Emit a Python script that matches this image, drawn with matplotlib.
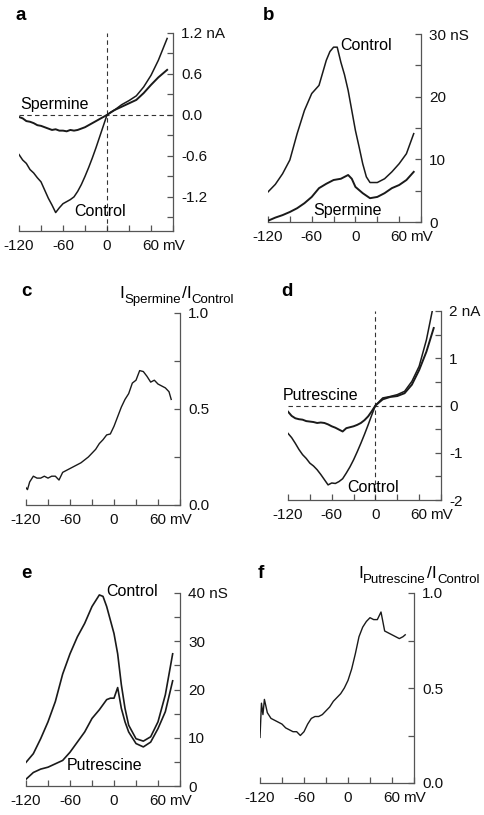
import matplotlib
matplotlib.use("Agg")
import matplotlib.pyplot as plt
import numpy as np

plt.rcParams['font.family'] = ['Liberation Sans', 'DejaVu Sans']

# ---------------- data ----------------
# Panel a: I-V, spermine (nA)
a_v_ctrl = [-120, -115, -110, -105, -100, -95, -90, -85, -80, -75, -70, -65, -60, -55, -50, -45, -40, -35, -30, -25, -20, -15, -10, -5, 0, 5, 10, 20, 30, 40, 50, 60, 70, 82]
a_i_ctrl = [-0.58, -0.66, -0.71, -0.80, -0.85, -0.92, -0.98, -1.10, -1.22, -1.32, -1.43, -1.36, -1.30, -1.27, -1.24, -1.20, -1.12, -1.02, -0.90, -0.77, -0.63, -0.48, -0.32, -0.16, 0.00, 0.04, 0.07, 0.15, 0.21, 0.28, 0.41, 0.58, 0.80, 1.12]
a_v_sperm = [-120, -115, -110, -105, -100, -95, -90, -85, -80, -75, -70, -65, -60, -55, -50, -45, -40, -35, -30, -25, -20, -15, -10, -5, 0, 10, 20, 30, 40, 50, 60, 70, 82]
a_i_sperm = [-0.03, -0.05, -0.09, -0.10, -0.12, -0.15, -0.16, -0.18, -0.20, -0.22, -0.21, -0.23, -0.23, -0.24, -0.22, -0.23, -0.22, -0.20, -0.18, -0.15, -0.12, -0.09, -0.06, -0.03, 0.00, 0.07, 0.12, 0.17, 0.22, 0.32, 0.44, 0.55, 0.66]

# Panel b: conductance, spermine (nS)
b_v_ctrl = [-120, -110, -100, -90, -80, -70, -60, -50, -40, -35, -30, -25, -20, -15, -10, -5, 0, 5, 10, 15, 20, 30, 40, 50, 60, 70, 80]
b_g_ctrl = [4.8, 6.0, 7.7, 9.9, 14.1, 17.8, 20.5, 21.8, 25.8, 27.2, 27.9, 27.9, 25.5, 23.5, 21.0, 17.8, 14.6, 12.0, 9.3, 7.2, 6.3, 6.3, 6.9, 8.0, 9.3, 10.9, 14.1]
b_v_sperm = [-120, -110, -100, -90, -80, -70, -60, -50, -40, -30, -20, -10, -5, 0, 5, 10, 20, 30, 40, 50, 60, 70, 80]
b_g_sperm = [0.2, 0.7, 1.1, 1.6, 2.2, 3.0, 4.0, 5.4, 6.1, 6.7, 6.9, 7.5, 6.9, 5.6, 5.1, 4.6, 3.8, 4.0, 4.6, 5.4, 5.9, 6.7, 8.0]

# Panel c: ratio I_Spermine / I_Control
c_v = [-120, -118, -115, -110, -105, -100, -95, -90, -85, -80, -75, -70, -65, -60, -55, -50, -45, -40, -35, -30, -25, -20, -15, -10, -5, 0, 5, 10, 15, 20, 25, 30, 35, 40, 45, 50, 55, 60, 65, 70, 75, 78]
c_r = [0.09, 0.08, 0.12, 0.15, 0.14, 0.14, 0.15, 0.14, 0.15, 0.15, 0.13, 0.17, 0.18, 0.19, 0.20, 0.21, 0.22, 0.235, 0.25, 0.27, 0.29, 0.32, 0.34, 0.365, 0.37, 0.41, 0.46, 0.51, 0.55, 0.58, 0.635, 0.65, 0.70, 0.695, 0.67, 0.64, 0.65, 0.63, 0.62, 0.61, 0.59, 0.55]

# Panel d: I-V, putrescine (nA)
d_v_ctrl = [-120, -115, -110, -105, -100, -95, -90, -85, -80, -75, -70, -65, -60, -55, -50, -45, -40, -35, -30, -25, -20, -15, -10, -5, 0, 10, 20, 30, 40, 50, 60, 70, 78]
d_i_ctrl = [-0.59, -0.68, -0.80, -0.93, -1.04, -1.12, -1.22, -1.28, -1.36, -1.46, -1.57, -1.68, -1.64, -1.65, -1.61, -1.55, -1.43, -1.30, -1.15, -0.98, -0.80, -0.61, -0.41, -0.20, 0.00, 0.16, 0.19, 0.23, 0.30, 0.51, 0.83, 1.39, 2.00]
d_v_put = [-120, -115, -110, -105, -100, -95, -90, -85, -80, -75, -70, -65, -60, -55, -50, -45, -40, -35, -30, -25, -20, -15, -10, -5, 0, 10, 20, 30, 40, 50, 60, 70, 80]
d_i_put = [-0.13, -0.22, -0.27, -0.29, -0.30, -0.33, -0.34, -0.35, -0.37, -0.36, -0.37, -0.40, -0.44, -0.47, -0.51, -0.55, -0.48, -0.46, -0.44, -0.41, -0.37, -0.31, -0.23, -0.12, 0.00, 0.13, 0.18, 0.20, 0.26, 0.44, 0.75, 1.14, 1.64]

# Panel e: conductance, putrescine (nS)
e_v_ctrl = [-120, -110, -100, -90, -80, -70, -60, -50, -40, -30, -20, -15, -10, -5, 0, 5, 10, 15, 20, 30, 40, 50, 60, 70, 80]
e_g_ctrl = [4.9, 6.7, 9.8, 13.3, 17.5, 23.2, 27.4, 30.9, 33.7, 37.2, 39.6, 39.3, 37.2, 34.4, 31.6, 27.4, 21.0, 16.1, 12.6, 9.8, 9.3, 10.2, 13.3, 18.9, 27.4]
e_v_put = [-120, -110, -100, -90, -80, -70, -60, -50, -40, -30, -20, -10, -5, 0, 5, 10, 15, 20, 30, 40, 50, 60, 70, 80]
e_g_put = [1.4, 2.8, 3.5, 3.9, 4.6, 5.3, 7.0, 9.1, 11.2, 14.0, 15.8, 17.9, 18.2, 18.2, 20.4, 16.1, 13.3, 11.2, 8.8, 8.1, 9.1, 11.9, 15.4, 21.8]

# Panel f: ratio I_Putrescine / I_Control
f_v = [-120, -118, -116, -114, -110, -105, -100, -95, -90, -85, -80, -75, -70, -65, -60, -55, -50, -45, -40, -35, -30, -25, -20, -15, -10, -5, 0, 5, 10, 15, 20, 25, 30, 35, 40, 45, 50, 55, 60, 65, 70, 75, 78]
f_r = [0.24, 0.42, 0.36, 0.44, 0.37, 0.34, 0.33, 0.32, 0.31, 0.29, 0.28, 0.27, 0.27, 0.25, 0.27, 0.31, 0.34, 0.35, 0.35, 0.36, 0.38, 0.40, 0.43, 0.45, 0.47, 0.50, 0.54, 0.60, 0.68, 0.77, 0.82, 0.85, 0.87, 0.86, 0.86, 0.90, 0.80, 0.79, 0.78, 0.77, 0.76, 0.77, 0.78]

x_ticks = [-120, -90, -60, -30, 0, 30, 60, 90]
x_labels = ['-120', '', '-60', '', '0', '', '60', 'mV']

# ---------------- figure ----------------
W, H = 484, 815
fig = plt.figure(figsize=(W / 100, H / 100), dpi=100)
renderer = fig.canvas.get_renderer()

TICK_FS = 11
ANN_FS = 11.5

def add_ax(L, R, T, B):
    return fig.add_axes([L / W, 1 - B / H, (R - L) / W, (B - T) / H])

def fx(x):
    return x / W

def fy(y):
    return 1 - y / H

LC = '#1a1a1a'
SC = '#555555'

def style(ax, ylim, yticks, ylabels):
    ax.set_xlim(-120, 90)
    ax.set_ylim(*ylim)
    for s in ['top', 'left']:
        ax.spines[s].set_visible(False)
    for s in ['right', 'bottom']:
        ax.spines[s].set_color(SC)
        ax.spines[s].set_linewidth(0.9)
    ax.yaxis.tick_right()
    ax.set_xticks(x_ticks)
    ax.set_xticklabels(x_labels)
    ax.set_yticks(yticks)
    ax.set_yticklabels(ylabels)
    ax.tick_params(axis='both', direction='in', length=4, width=0.9, color=SC,
                   labelsize=TICK_FS, labelcolor='#111111', pad=6)
    ax.patch.set_alpha(0)

def ratio_title(x_px, base_px, sub1, sub2):
    """Compose I_sub1/I_sub2 as real text pieces."""
    parts = [('I', 12.5, 0), (sub1, 9.5, 5), ('/I', 12.5, 0), (sub2, 9.5, 5)]
    x = x_px
    for txt, fs, drop in parts:
        t = fig.text(fx(x), fy(base_px + drop), txt, fontsize=fs, ha='left', va='baseline')
        bb = t.get_window_extent(renderer=renderer)
        x += bb.width + 0.5

def letter(x, y, s):
    fig.text(fx(x), fy(y), s, fontsize=13.5, fontweight='bold', va='center', ha='left')

# Panel a
ax = add_ax(19, 173, 33, 231)
style(ax, (-1.7, 1.2), [-1.5, -1.2, -0.9, -0.6, -0.3, 0.0, 0.3, 0.6, 0.9, 1.2],
      ['', '-1.2', '', '-0.6', '', '0.0', '', '0.6', '', '1.2 nA'])
ax.axhline(0, color='#333333', lw=0.8, ls=(0, (4, 3)))
ax.axvline(0, color='#333333', lw=0.8, ls=(0, (4, 3)))
ax.plot(a_v_ctrl, a_i_ctrl, color=LC, lw=1.1)
ax.plot(a_v_sperm, a_i_sperm, color=LC, lw=1.4)
fig.text(fx(20), fy(105), 'Spermine', fontsize=ANN_FS, va='center', ha='left')
fig.text(fx(74), fy(212), 'Control', fontsize=ANN_FS, va='center', ha='left')
letter(16, 16, 'a')

# Panel b
ax = add_ax(268, 421, 34, 222)
style(ax, (0, 30), [0, 5, 10, 15, 20, 25, 30], ['0', '', '10', '', '20', '', '30 nS'])
ax.plot(b_v_ctrl, b_g_ctrl, color=LC, lw=1.1)
ax.plot(b_v_sperm, b_g_sperm, color=LC, lw=1.4)
fig.text(fx(340), fy(46), 'Control', fontsize=ANN_FS, va='center', ha='left')
fig.text(fx(313), fy(210), 'Spermine', fontsize=ANN_FS, va='center', ha='left')
letter(263, 16, 'b')

# Panel c
ax = add_ax(26, 180, 313, 505)
style(ax, (0, 1.0), [0, 0.25, 0.5, 0.75, 1.0], ['0.0', '', '0.5', '', '1.0'])
ax.plot(c_v, c_r, color=LC, lw=1.0)
ratio_title(119, 298, 'Spermine', 'Control')
letter(21, 291, 'c')

# Panel d
ax = add_ax(288, 441, 311, 500)
style(ax, (-2, 2), [-2, -1.5, -1, -0.5, 0, 0.5, 1, 1.5, 2], ['-2', '', '-1', '', '0', '', '1', '', '2 nA'])
ax.axhline(0, color='#333333', lw=0.8, ls=(0, (4, 3)))
ax.axvline(0, color='#333333', lw=0.8, ls=(0, (4, 3)))
ax.plot(d_v_ctrl, d_i_ctrl, color=LC, lw=1.1)
ax.plot(d_v_put, d_i_put, color=LC, lw=1.4)
fig.text(fx(283), fy(395), 'Putrescine', fontsize=ANN_FS, va='center', ha='left')
fig.text(fx(347), fy(488), 'Control', fontsize=ANN_FS, va='center', ha='left')
letter(281, 291, 'd')

# Panel e
ax = add_ax(26, 180, 593, 786)
style(ax, (0, 40), [0, 5, 10, 15, 20, 25, 30, 35, 40], ['0', '', '10', '', '20', '', '30', '', '40 nS'])
ax.plot(e_v_ctrl, e_g_ctrl, color=LC, lw=1.2)
ax.plot(e_v_put, e_g_put, color=LC, lw=1.2)
fig.text(fx(106), fy(592), 'Control', fontsize=ANN_FS, va='center', ha='left')
fig.text(fx(67), fy(765), 'Putrescine', fontsize=ANN_FS, va='center', ha='left')
letter(21, 574, 'e')

# Panel f
ax = add_ax(260, 414, 593, 783)
style(ax, (0, 1.0), [0, 0.25, 0.5, 0.75, 1.0], ['0.0', '', '0.5', '', '1.0'])
ax.plot(f_v, f_r, color=LC, lw=1.0)
ratio_title(358, 578, 'Putrescine', 'Control')
letter(258, 573, 'f')

fig.savefig('out.png', dpi=100)
